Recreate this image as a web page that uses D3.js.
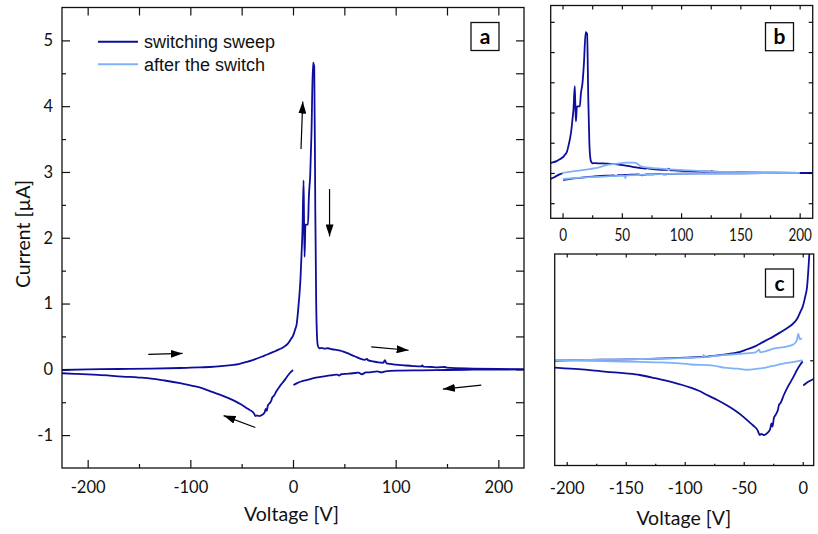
<!DOCTYPE html>
<html>
<head>
<meta charset="utf-8">
<script src="https://cdn.jsdelivr.net/npm/d3@7"></script>
<style>
  body { margin: 0; background: #fff; }
  svg { display: block; }
</style>
</head>
<body>
<svg width="818" height="534"></svg>
<script>
// ---- data: [voltage V, current µA] ----
// switching sweep, forward branch (-225 -> 225)
const sweepUp = [
  [-225, -0.01], [-200, 0.0], [-170, 0.005], [-138, 0.01], [-110, 0.02], [-100, 0.025],
  [-90, 0.03], [-81, 0.035], [-70, 0.048], [-60, 0.065], [-53, 0.08], [-47, 0.105],
  [-40, 0.135], [-35, 0.165], [-30, 0.195], [-25, 0.225], [-19, 0.265], [-14, 0.3],
  [-9, 0.34], [-5, 0.39], [-2, 0.46], [0, 0.51], [1, 0.55], [2, 0.6], [3.7, 0.7],
  [5, 0.9], [6.2, 1.12], [7.3, 1.38], [8.3, 1.75], [9.2, 2.1], [10.3, 2.87], [10.8, 2.2],
  [11.3, 1.71], [12.1, 2.2], [14.6, 2.2], [15.4, 2.6], [16.8, 2.97], [18, 3.6], [19.5, 4.66],
  [20.7, 4.6], [21.7, 2.46], [22.6, 1.0], [23.4, 0.5], [24.2, 0.36], [25.5, 0.32],
  [28, 0.325], [31, 0.315], [34, 0.32], [38, 0.305], [42, 0.295], [46, 0.285], [49, 0.27],
  [53, 0.245], [56, 0.225], [59, 0.205], [62, 0.185], [66, 0.16], [70, 0.145], [72, 0.16],
  [73, 0.14], [78, 0.12], [83, 0.105], [88, 0.1], [89.5, 0.14], [91, 0.09], [96, 0.08],
  [100, 0.07], [108, 0.06], [117, 0.05], [125, 0.045], [126, 0.06], [127, 0.04],
  [135, 0.035], [140, 0.03], [148, 0.035], [150, 0.025], [175, 0.012], [200, 0.005], [225, 0.0]
];
// switching sweep, return branch on the positive side (225 -> 0)
const sweepBackPos = [
  [225, 0.0], [200, -0.005], [175, -0.006], [150, -0.01], [125, -0.015], [101, -0.02],
  [90, -0.03], [86, -0.045], [82, -0.03], [75, -0.045], [71, -0.048], [67, -0.075],
  [64, -0.05], [58, -0.06], [52, -0.068], [47, -0.075], [45, -0.095], [43, -0.08],
  [38, -0.09], [33, -0.1], [27, -0.115], [20, -0.135], [14, -0.16], [8, -0.185],
  [4, -0.21], [0.5, -0.24]
];
// switching sweep, negative side (0 -> -225)
const sweepBackNeg = [
  [0, -0.01], [-2, -0.04], [-5, -0.095], [-8, -0.16], [-11, -0.22], [-13, -0.26],
  [-16, -0.33], [-19, -0.41], [-20, -0.42], [-21, -0.47], [-23, -0.52], [-24.5, -0.55],
  [-25.5, -0.63], [-26.5, -0.6], [-27.5, -0.65], [-29, -0.68], [-31, -0.7], [-33, -0.71],
  [-35, -0.7], [-36.5, -0.71], [-38, -0.67], [-42, -0.62], [-45, -0.59], [-50, -0.54],
  [-57, -0.48], [-64, -0.43], [-72, -0.38], [-81, -0.33], [-88, -0.29], [-95, -0.26],
  [-102, -0.235], [-110, -0.21], [-125, -0.17], [-138, -0.14], [-150, -0.125],
  [-166, -0.11], [-190, -0.085], [-210, -0.07], [-225, -0.06]
];
// after the switch
const afterPosUp = [
  [0, 0.0], [10, 0.06], [23, 0.13], [30, 0.18], [37, 0.26], [45, 0.3], [54, 0.34],
  [60, 0.34], [63, 0.31], [66, 0.22], [80, 0.15], [99, 0.1], [121, 0.055], [150, 0.03],
  [175, 0.015], [200, 0.0]
];
const afterPosDown = [
  [200, 0.0], [150, -0.01], [120, -0.02], [93, -0.03], [70, -0.06], [53.5, -0.09],
  [53, -0.18], [52.5, -0.09], [35, -0.12], [23, -0.14], [10, -0.17], [0.3, -0.2]
];
const afterNegDown = [
  [0, 0.0], [-5, -0.01], [-13.6, -0.025], [-22, -0.045], [-30.5, -0.067], [-38, -0.08],
  [-47.5, -0.09], [-55, -0.08], [-67, -0.07], [-76, -0.05], [-95, -0.04], [-104, -0.03],
  [-120, -0.02], [-138, -0.016], [-170, -0.008], [-210, 0.0]
];
const afterNegUp = [
  [-210, 0.0], [-170, 0.005], [-138, 0.012], [-104, 0.02], [-85, 0.03], [-84, 0.05],
  [-83, 0.03], [-76, 0.04], [-60, 0.055], [-47.5, 0.065], [-40, 0.075], [-37, 0.1],
  [-36, 0.075], [-30.5, 0.09], [-25, 0.11], [-13.6, 0.13], [-8, 0.15], [-5, 0.19],
  [-3.7, 0.25], [-2.5, 0.2], [-0.8, 0.21]
];
// arrows in panel a: [from, to] in data units
const arrowsA = [
  [[-141, 0.227], [-107.5, 0.242]],
  [[-36.7, -0.885], [-67.6, -0.703]],
  [[7.8, 3.35], [9.5, 4.07]],
  [[35.6, 2.74], [35.6, 2.02]],
  [[76.2, 0.34], [112.6, 0.29]],
  [[183.4, -0.24], [146, -0.3]]
];
// ticks
const xMajorA = [-200, -100, 0, 100, 200], xMinorA = [-150, -50, 50, 150];
const yMajorA = [-1, 0, 1, 2, 3, 4, 5], yMinorA = [-0.5, 0.5, 1.5, 2.5, 3.5, 4.5];
const xMajorB = [0, 50, 100, 150, 200], xMinorB = [25, 75, 125, 175];
const yTicksB = [-1, 0, 1, 2, 3, 4, 5];
const xMajorC = [-200, -150, -100, -50, 0], xMinorC = [-175, -125, -75, -25];
const yTicksC = [0];

const dark = "#0e0e9c", light = "#80b2f7";
const tickFont = "Lato, 'Open Sans', sans-serif";

const svg = d3.select("svg");

function panel(id, box, xDom, yDom) {
  const x = d3.scaleLinear().domain(xDom).range([box.left, box.right]);
  const y = d3.scaleLinear().domain(yDom).range([box.bottom, box.top]);
  svg.append("clipPath").attr("id", "clip-" + id)
    .append("rect")
    .attr("x", box.left).attr("y", box.top)
    .attr("width", box.right - box.left).attr("height", box.bottom - box.top);
  const g = svg.append("g");
  const plot = g.append("g").attr("clip-path", `url(#clip-${id})`);
  return { id, box, x, y, g, plot };
}

function axis(p, orient, values, size, opts = {}) {
  const b = p.box;
  const scale = (orient === "bottom" || orient === "top") ? p.x : p.y;
  const maker = { bottom: d3.axisBottom, top: d3.axisTop, left: d3.axisLeft, right: d3.axisRight }[orient];
  const pos = { bottom: `translate(0,${b.bottom})`, top: `translate(0,${b.top})`,
                left: `translate(${b.left},0)`, right: `translate(${b.right},0)` }[orient];
  const ax = maker(scale).tickValues(values).tickSizeInner(-size).tickSizeOuter(0)
    .tickPadding(opts.pad || 0)
    .tickFormat(opts.labels ? d3.format("d") : "");
  const g = p.g.append("g").attr("transform", pos).call(ax);
  g.select(".domain").remove();
  g.selectAll(".tick line").attr("stroke", "#111").attr("stroke-width", 1.2);
  g.attr("font-family", tickFont).attr("font-size", opts.fontSize || 16.5);
  g.selectAll("text").attr("fill", "#111").text(d => opts.labels ? String(d) : "");
  if (opts.squeeze) g.selectAll("text").attr("transform", `scale(${opts.squeeze},1)`);
  return g;
}

function frame(p) {
  const b = p.box;
  p.g.append("rect")
    .attr("x", b.left).attr("y", b.top)
    .attr("width", b.right - b.left).attr("height", b.bottom - b.top)
    .attr("fill", "none").attr("stroke", "#111").attr("stroke-width", 1.3);
}

function curve(p, data, color, w) {
  const sorted = data.slice().sort((a, b) => a[0] - b[0]);
  const line = d3.line().x(d => p.x(d[0])).y(d => p.y(d[1])).curve(d3.curveMonotoneX);
  p.plot.append("path").datum(sorted)
    .attr("d", line).attr("fill", "none")
    .attr("stroke", color).attr("stroke-width", w)
    .attr("stroke-linejoin", "round");
}

function tag(p, letter, bx, by) {
  p.g.append("rect").attr("x", bx).attr("y", by).attr("width", 28).attr("height", 28)
    .attr("fill", "#fff").attr("stroke", "#111").attr("stroke-width", 1.3);
  p.g.append("text").attr("x", bx + 14).attr("y", by + 14).attr("dy", "0.36em")
    .attr("text-anchor", "middle").attr("font-family", tickFont)
    .attr("font-weight", "bold").attr("font-size", 21).text(letter);
}

// ---- panel a ----
const pa = panel("a", { left: 62, right: 524, top: 7.5, bottom: 468 }, [-225, 225], [-1.5, 5.5]);
[sweepUp, sweepBackPos, sweepBackNeg].forEach(d => curve(pa, d, dark, 1.8));
axis(pa, "bottom", xMajorA, 8, { labels: true, pad: 13.3 });
axis(pa, "bottom", xMinorA, 4);
axis(pa, "left", yMajorA, 8, { labels: true, pad: 9 });
axis(pa, "left", yMinorA, 4);
axis(pa, "top", xMajorA.concat(xMinorA), 8);
axis(pa, "right", yMajorA.concat(yMinorA), 8);
frame(pa);
tag(pa, "a", 471, 22.5);

svg.append("defs").append("marker")
  .attr("id", "head").attr("viewBox", "0 0 12 8").attr("refX", 12).attr("refY", 4)
  .attr("markerUnits", "userSpaceOnUse").attr("markerWidth", 12).attr("markerHeight", 8)
  .attr("orient", "auto")
  .append("path").attr("d", "M0,0 L12,4 L0,8 Z").attr("fill", "#000");

pa.g.selectAll(".arrow").data(arrowsA).enter().append("line")
  .attr("x1", d => pa.x(d[0][0])).attr("y1", d => pa.y(d[0][1]))
  .attr("x2", d => pa.x(d[1][0])).attr("y2", d => pa.y(d[1][1]))
  .attr("stroke", "#000").attr("stroke-width", 1.2).attr("marker-end", "url(#head)");

// legend
const legend = [["switching sweep", dark], ["after the switch", light]];
legend.forEach((d, i) => {
  const ly = 41.7 + i * 22.5;
  pa.g.append("line").attr("x1", 98).attr("x2", 138).attr("y1", ly).attr("y2", ly)
    .attr("stroke", d[1]).attr("stroke-width", 2);
  pa.g.append("text").attr("x", 144).attr("y", ly).attr("dy", "0.35em")
    .attr("font-family", "'Liberation Sans', Arial, sans-serif").attr("font-size", 18)
    .attr("fill", "#111").text(d[0]);
});

svg.append("text").attr("x", 291.5).attr("y", 520.7).attr("text-anchor", "middle")
  .attr("font-family", tickFont).attr("font-size", 19.5).attr("fill", "#111").text("Voltage [V]");
svg.append("text").attr("transform", "translate(30,234) rotate(-90)").attr("text-anchor", "middle")
  .attr("font-family", tickFont).attr("font-size", 19.5).attr("fill", "#111").text("Current [µA]");

// ---- panel b ----
const pb = panel("b", { left: 550.7, right: 812.7, top: 5.5, bottom: 218.3 }, [-10, 211], [-1.5, 5.54]);
[sweepUp, sweepBackPos, sweepBackNeg].forEach(d => curve(pb, d, dark, 1.8));
[afterPosUp, afterPosDown].forEach(d => curve(pb, d, light, 1.8));
axis(pb, "bottom", xMajorB, 5, { labels: true, pad: 10.7, squeeze: 0.82 });
axis(pb, "bottom", xMinorB, 3);
axis(pb, "top", xMajorB.concat(xMinorB), 4);
axis(pb, "left", yTicksB, 4);
axis(pb, "right", yTicksB, 4);
frame(pb);
tag(pb, "b", 765.5, 22.7);

// ---- panel c ----
const pc = panel("c", { left: 554.7, right: 813.7, top: 254, bottom: 465.5 }, [-210.2, 9.3], [-1, 1.01]);
[sweepUp, sweepBackPos, sweepBackNeg].forEach(d => curve(pc, d, dark, 1.8));
[afterNegDown, afterNegUp].forEach(d => curve(pc, d, light, 1.8));
axis(pc, "bottom", xMajorC, 3.5, { labels: true, pad: 16.8 });
axis(pc, "bottom", xMinorC, 1.8);
axis(pc, "top", xMajorC, 3.5);
axis(pc, "top", xMinorC, 1.8);
axis(pc, "right", yTicksC, 3.5);
frame(pc);
tag(pc, "c", 765.5, 269);

svg.append("text").attr("x", 683.8).attr("y", 525).attr("text-anchor", "middle")
  .attr("font-family", tickFont).attr("font-size", 19.5).attr("fill", "#111").text("Voltage [V]");
</script>
</body>
</html>
